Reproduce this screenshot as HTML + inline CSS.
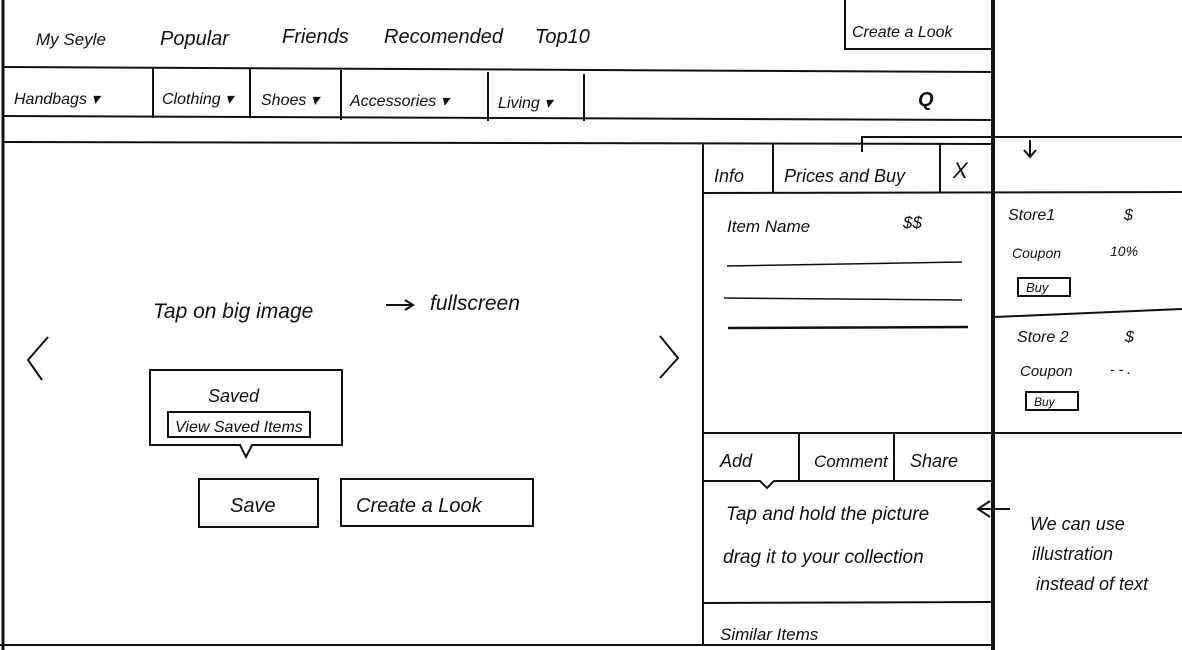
<!DOCTYPE html>
<html><head><meta charset="utf-8"><style>
html,body{margin:0;padding:0;background:#fff;}
svg{display:block}
text{font-family:"Liberation Sans",sans-serif;fill:#111;font-style:italic}
</style></head><body>
<svg width="1182" height="650" viewBox="0 0 1182 650" xmlns="http://www.w3.org/2000/svg">
<g stroke="#111" fill="none" stroke-width="2">
<!-- outer frame -->
<line x1="3" y1="0" x2="3" y2="650" stroke-width="3"/>
<line x1="993" y1="0" x2="993" y2="650" stroke-width="4"/>
<line x1="0" y1="645" x2="993" y2="645"/>
<!-- create a look top -->
<path d="M845 0 V49 H993"/>
<!-- header lines -->
<line x1="3" y1="67" x2="993" y2="72"/>
<line x1="3" y1="116" x2="993" y2="120"/>
<line x1="3" y1="142" x2="993" y2="144"/>
<!-- category separators -->
<line x1="153" y1="68" x2="153" y2="118"/>
<line x1="250" y1="69" x2="250" y2="118"/>
<line x1="341" y1="70" x2="341" y2="120"/>
<line x1="488" y1="72" x2="488" y2="121"/>
<line x1="584" y1="74" x2="584" y2="121"/>
<!-- side panel -->
<line x1="703" y1="144" x2="703" y2="645"/>
<line x1="773" y1="144" x2="773" y2="193"/>
<line x1="940" y1="144" x2="940" y2="193"/>
<line x1="703" y1="193" x2="1182" y2="192"/>
<line x1="727" y1="266" x2="962" y2="262" stroke-width="1.5"/>
<line x1="724" y1="298" x2="962" y2="300" stroke-width="1.5"/>
<line x1="728" y1="328" x2="968" y2="327" stroke-width="2.5"/>
<line x1="703" y1="433" x2="1182" y2="433"/>
<line x1="799" y1="433" x2="799" y2="480"/>
<line x1="894" y1="433" x2="894" y2="481"/>
<path d="M703 481 H760 L767 488 L774 481 H993"/>
<line x1="703" y1="603" x2="993" y2="602"/>
<!-- right area -->
<line x1="995" y1="317" x2="1182" y2="309"/>
<rect x="1018" y="278" width="52" height="18"/>
<rect x="1026" y="392" width="52" height="18"/>
<!-- connector -->
<path d="M862 152 V137 H1182"/>
<path d="M1030 140 V156 M1024 150 L1030 157 L1036 150"/>
<path d="M1010 509 H980 M990 501 L978 509 L990 517"/>
<!-- center -->
<path d="M48 337 L28 360 L42 380"/>
<path d="M660 336 L678 358 L660 378"/>
<path d="M150 370 H342 V445 H252 L246 457 L240 445 H150 Z"/>
<rect x="168" y="412" width="142" height="25"/>
<rect x="199" y="479" width="119" height="48"/>
<rect x="341" y="479" width="192" height="47"/>
<path d="M386 305 H412 M405 300 L413 305 L405 310"/>
</g>
<g font-size="20">
<text x="36" y="45" font-size="17">My Seyle</text>
<text x="160" y="45">Popular</text>
<text x="282" y="43">Friends</text>
<text x="384" y="43">Recomended</text>
<text x="535" y="43">Top10</text>
<text x="852" y="37" font-size="16">Create a Look</text>
<text x="14" y="104" font-size="16">Handbags ▾</text>
<text x="162" y="104" font-size="16">Clothing ▾</text>
<text x="261" y="105" font-size="16">Shoes ▾</text>
<text x="350" y="106" font-size="16">Accessories ▾</text>
<text x="498" y="108" font-size="16">Living ▾</text>
<text x="918" y="106" font-size="20" font-style="normal" font-weight="bold">Q</text>
<text x="714" y="182" font-size="18">Info</text>
<text x="784" y="182" font-size="18">Prices and Buy</text>
<text x="953" y="178" font-size="22" font-style="normal">X</text>
<text x="727" y="232" font-size="17">Item Name</text>
<text x="903" y="228" font-size="17">$$</text>
<text x="1008" y="220" font-size="16">Store1</text>
<text x="1124" y="220" font-size="16">$</text>
<text x="1012" y="258" font-size="14">Coupon</text>
<text x="1110" y="256" font-size="14">10%</text>
<text x="1026" y="292" font-size="13">Buy</text>
<text x="1017" y="342" font-size="16">Store 2</text>
<text x="1125" y="342" font-size="16">$</text>
<text x="1020" y="376" font-size="15">Coupon</text>
<text x="1110" y="374" font-size="14">- - .</text>
<text x="1034" y="406" font-size="12">Buy</text>
<text x="720" y="467" font-size="18">Add</text>
<text x="814" y="467" font-size="17">Comment</text>
<text x="910" y="467" font-size="18">Share</text>
<text x="726" y="520" font-size="19">Tap and hold the picture</text>
<text x="723" y="563" font-size="19">drag it to your collection</text>
<text x="720" y="640" font-size="17">Similar Items</text>
<text x="1030" y="530" font-size="18">We can use</text>
<text x="1032" y="560" font-size="18">illustration</text>
<text x="1036" y="590" font-size="18">instead of text</text>
<text x="153" y="318" font-size="21">Tap on big image</text>
<text x="430" y="310" font-size="21">fullscreen</text>
<text x="208" y="402" font-size="18">Saved</text>
<text x="175" y="432" font-size="16">View Saved Items</text>
<text x="230" y="512" font-size="20">Save</text>
<text x="356" y="512" font-size="20">Create a Look</text>
</g>
</svg>
</body></html>
